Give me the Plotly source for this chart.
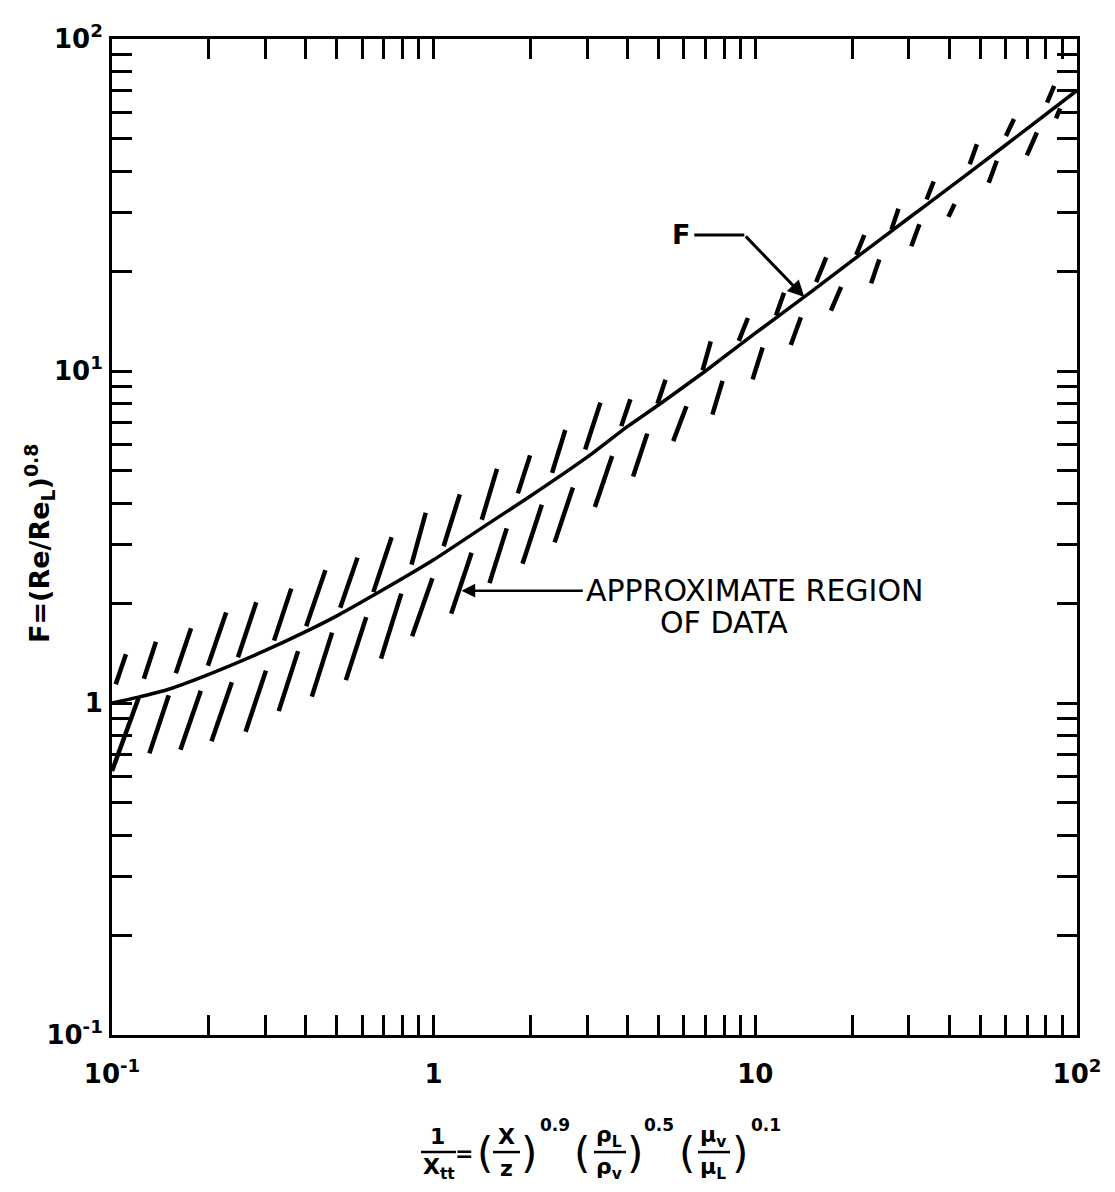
import numpy as np
import plotly.graph_objects as go

# ---------------- data ----------------
# correlation curve F vs 1/Xtt
curve_x = [0.1, 0.12, 0.15, 0.2, 0.3, 0.4, 0.5, 0.7, 1, 1.5, 2, 3, 4, 5, 7,
           10, 15, 20, 30, 40, 50, 70, 100]
curve_F = [1.0, 1.04, 1.1, 1.22, 1.44, 1.64, 1.83, 2.2, 2.7, 3.5, 4.2, 5.5, 6.8,
           7.9, 10.0, 13.0, 17.4, 21.5, 28.9, 35.6, 41.9, 53.7, 70.0]

# hatch dashes above the curve: (bottom end) -> (top end)
upper_x0 = [0.1027, 0.1256, 0.1579, 0.1987, 0.2464, 0.3190, 0.4015, 0.5123, 0.6494,
            0.8533, 1.074, 1.411, 1.827, 2.334, 2.958, 3.830, 4.962, 6.856, 8.883,
            11.59, 15.45, 20.59, 26.49, 34.07, 46.41, 60.12, 80.74]
upper_F0 = [1.139, 1.183, 1.229, 1.295, 1.374, 1.541, 1.704, 1.937, 2.157,
            2.611, 2.966, 3.564, 4.281, 4.933, 5.800, 6.823, 7.970, 10.05, 12.32,
            14.69, 18.51, 22.37, 26.66, 32.86, 41.98, 51.06, 64.30]
upper_x1 = [0.1105, 0.1370, 0.1761, 0.2264, 0.2809, 0.3608, 0.4608, 0.5797, 0.7401,
            0.9450, 1.206, 1.574, 1.994, 2.566, 3.299, 4.089, 5.258, 7.268, 9.481,
            12.28, 16.61, 21.82, 27.87, 35.84, 48.84, 63.71, 84.93]
upper_F1 = [1.403, 1.529, 1.680, 1.872, 2.012, 2.211, 2.513, 2.741, 3.158,
            3.742, 4.252, 5.074, 5.569, 6.642, 8.029, 8.224, 9.410, 12.28, 14.44,
            17.22, 21.99, 25.68, 30.81, 37.22, 48.19, 57.42, 72.29]

# hatch dashes below the curve: (bottom end) -> (top end)
lower_x0 = [0.1, 0.1307, 0.1632, 0.2039, 0.2602, 0.3298, 0.4180, 0.5334, 0.6859,
            0.8570, 1.134, 1.491, 1.889, 2.377, 3.171, 4.168, 5.555, 7.353, 9.805,
            12.89, 17.18, 22.91, 30.54, 39.85, 53.15, 69.83, 86.05]
lower_F0 = [0.6236, 0.7053, 0.7231, 0.7670, 0.8196, 0.9449, 1.045, 1.172, 1.361,
            1.589, 1.859, 2.296, 2.627, 3.047, 3.896, 4.810, 6.148, 7.385, 9.436,
            11.97, 15.19, 18.36, 23.77, 29.12, 36.91, 44.60, 57.66]
lower_x1 = [0.1210, 0.1501, 0.1888, 0.2358, 0.3010, 0.3788, 0.4833, 0.6171, 0.7931,
            0.9912, 1.312, 1.687, 2.169, 2.710, 3.588, 4.613, 6.107, 7.909, 10.54,
            13.86, 18.48, 24.28, 32.37, 41.62, 56.33, 75.07, 88.60]
lower_F1 = [1.037, 1.055, 1.089, 1.155, 1.252, 1.433, 1.629, 1.814, 2.135,
            2.376, 2.836, 3.359, 3.953, 4.460, 5.544, 6.477, 7.832, 9.340, 11.77,
            14.52, 17.92, 21.67, 27.67, 31.85, 42.97, 52.28, 61.77]

# labels
x_decades = [0.1, 1, 10, 100]
x_decade_text = ["10<sup>-1</sup>", "1", "10", "10<sup>2</sup>"]
y_decades = [0.1, 1, 10, 100]
y_decade_text = ["10<sup>-1</sup>", "1", "10<sup>1</sup>", "10<sup>2</sup>"]

F_label_pos = (5.89, 25.7)
F_leader = ([6.46, 9.24], [25.7, 25.7])
F_arrow_tip = (14.2, 16.7)
region_arrow_tail = (2.94, 2.18)
region_arrow_tip = (1.22, 2.18)
region_label_1 = "APPROXIMATE REGION"
region_label_2 = "OF DATA"
region_label_2_pos = (8.0, 1.745)

# ---------------- figure ----------------
FONT = "DejaVu Sans"
# page is drawn with an 8px body margin, so the figure is 8px smaller
W, H = 1107, 1184
ML, MR, MT, MB = 104, 38, 23, 157
PAGE_L, PAGE_T = ML + 8, MT + 8
PW, PH = W - ML - MR, H - MT - MB


def PX(px):   # page pixel -> paper fraction
    return (px - PAGE_L) / PW


def PY(py):
    return (PAGE_T + PH - py) / PH


def dashes(x0, y0, x1, y1):
    xs, ys = [], []
    for a, b, c, d in zip(x0, y0, x1, y1):
        xs += [a, c, None]
        ys += [b, d, None]
    return xs, ys


fig = go.Figure()

ux, uy = dashes(upper_x0, upper_F0, upper_x1, upper_F1)
lx, ly = dashes(lower_x0, lower_F0, lower_x1, lower_F1)
fig.add_trace(go.Scatter(x=ux + lx, y=uy + ly, mode="lines",
                         line=dict(color="black", width=4.5),
                         hoverinfo="skip", showlegend=False, name="data region"))
fig.add_trace(go.Scatter(x=curve_x, y=curve_F, mode="lines",
                         line=dict(color="black", width=3.5, shape="spline", smoothing=0.6),
                         showlegend=False, name="F"))
fig.add_trace(go.Scatter(x=F_leader[0], y=F_leader[1], mode="lines",
                         line=dict(color="black", width=3), hoverinfo="skip",
                         showlegend=False))


def all_ticks():
    vals = []
    for e in (-1, 0, 1):
        for m in range(1, 10):
            vals.append(m * 10.0 ** e)
    vals.append(100.0)
    return vals


tv = all_ticks()


def ticktexts(decades, texts):
    out = []
    for v in tv:
        lab = ""
        for d, t in zip(decades, texts):
            if abs(v - d) < 1e-9 * max(1, d):
                lab = t
        out.append(lab)
    return out


axis_common = dict(type="log", showgrid=False, zeroline=False,
                   showline=True, linecolor="black", linewidth=3, mirror="ticks",
                   ticks="inside", ticklen=20, tickwidth=3, tickcolor="black",
                   tickvals=tv,
                   tickfont=dict(family=FONT, size=26, color="black", weight="bold"))

fig.update_xaxes(range=[-1, 2], ticktext=ticktexts(x_decades, x_decade_text),
                 ticklabelstandoff=14, **axis_common)
fig.update_yaxes(range=[-1, 2], ticktext=ticktexts(y_decades, y_decade_text),
                 ticklabelstandoff=1, **axis_common)

ann = []
# F label + arrow
ann.append(dict(x=np.log10(F_label_pos[0]), y=np.log10(F_label_pos[1]), xref="x", yref="y",
                text="F", showarrow=False, font=dict(family=FONT, size=27, color="black", weight="bold")))
ann.append(dict(x=np.log10(F_arrow_tip[0]), y=np.log10(F_arrow_tip[1]), xref="x", yref="y",
                ax=np.log10(F_leader[0][1]), ay=np.log10(F_leader[1][1]), axref="x", ayref="y",
                text="", showarrow=True, arrowhead=2, arrowsize=1.1, arrowwidth=3, arrowcolor="black"))
# approximate region label + arrow
ann.append(dict(x=np.log10(region_arrow_tip[0]), y=np.log10(region_arrow_tip[1]), xref="x", yref="y",
                ax=np.log10(region_arrow_tail[0]), ay=np.log10(region_arrow_tail[1]), axref="x", ayref="y",
                text="", showarrow=True, arrowhead=2, arrowsize=1.1, arrowwidth=2.5, arrowcolor="black"))
ann.append(dict(x=np.log10(region_arrow_tail[0]), y=np.log10(region_arrow_tail[1]), xref="x", yref="y",
                xanchor="left", yanchor="middle", text=region_label_1, showarrow=False,
                font=dict(family=FONT, size=30, color="black")))
ann.append(dict(x=np.log10(region_label_2_pos[0]), y=np.log10(region_label_2_pos[1]), xref="x", yref="y",
                xanchor="center", yanchor="middle", text=region_label_2, showarrow=False,
                font=dict(family=FONT, size=30, color="black")))

# y-axis title
ann.append(dict(x=PX(40), y=PY(540), xref="paper", yref="paper", textangle=-90,
                xanchor="center", yanchor="middle",
                text="F=(Re/Re<sub>L</sub>)<sup>0.8</sup>", showarrow=False,
                font=dict(family=FONT, size=27, color="black", weight="bold")))

# x-axis title built from pieces (fractions)
title_parts = [
    ("1", 437, 1137, 22, "bold"),
    ("X<sub>tt</sub>", 439, 1170, 22, "bold"),
    ("=", 464, 1154, 22, "bold"),
    ("(", 485, 1154, 42, "normal"),
    ("X", 506, 1137, 22, "bold"),
    ("z", 506, 1170, 22, "bold"),
    (")", 529, 1154, 42, "normal"),
    ("0.9", 555, 1126, 17, "bold"),
    ("(", 582, 1154, 42, "normal"),
    ("ρ<sub>L</sub>", 609, 1137, 22, "bold"),
    ("ρ<sub>v</sub>", 609, 1170, 22, "bold"),
    (")", 635, 1154, 42, "normal"),
    ("0.5", 659, 1126, 17, "bold"),
    ("(", 687, 1154, 42, "normal"),
    ("μ<sub>v</sub>", 713, 1137, 22, "bold"),
    ("μ<sub>L</sub>", 713, 1170, 22, "bold"),
    (")", 740, 1154, 42, "normal"),
    ("0.1", 766, 1126, 17, "bold"),
]
for t, px, py, sz, wt in title_parts:
    ann.append(dict(x=PX(px), y=PY(py), xref="paper", yref="paper", text=t,
                    showarrow=False, xanchor="center", yanchor="middle", borderpad=0,
                    font=dict(family=FONT, size=sz, color="black", weight=wt)))

bars = [(421, 456), (493, 520), (594, 626), (698, 730)]
shapes = []
for a, b in bars:
    shapes.append(dict(type="line", xref="paper", yref="paper",
                       x0=PX(a), x1=PX(b), y0=PY(1153), y1=PY(1153),
                       line=dict(color="black", width=2.5)))

fig.update_layout(width=W, height=H, margin=dict(l=ML, r=MR, t=MT, b=MB),
                  paper_bgcolor="white", plot_bgcolor="white",
                  font=dict(family=FONT, color="black"),
                  annotations=ann, shapes=shapes, showlegend=False)

fig.write_html("out.html")
